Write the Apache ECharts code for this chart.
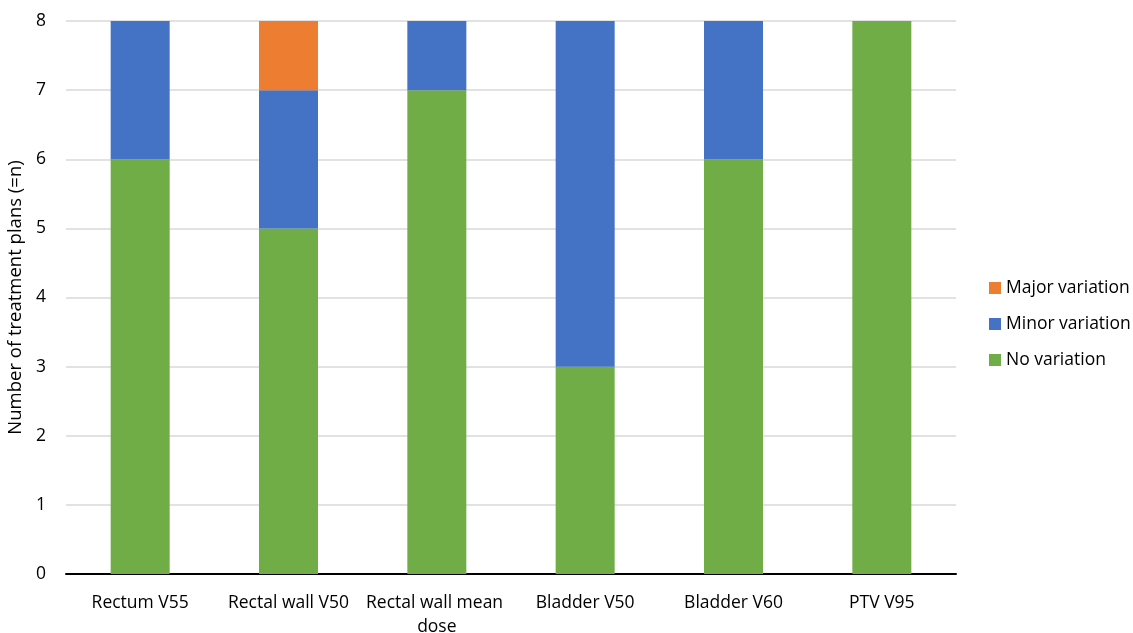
<!DOCTYPE html>
<html>
<head>
<meta charset="utf-8">
<script src="https://cdn.jsdelivr.net/npm/echarts@6/dist/echarts.min.js"></script>
<style>
  html, body { margin: 0; padding: 0; background: #fff; }
  #chart { width: 1133px; height: 633px; }
</style>
</head>
<body>
<div id="chart"></div>
<script>
// Plan metrics on the x axis
const categories = ['Rectum V55', 'Rectal wall V50', 'Rectal wall mean dose', 'Bladder V50', 'Bladder V60', 'PTV V95'];
// Number of treatment plans per variation class
const noVariation = [6, 5, 7, 3, 6, 8];
const minorVariation = [2, 2, 1, 5, 2, 0];
const majorVariation = [0, 1, 0, 0, 0, 0];
const yTicks = [0, 1, 2, 3, 4, 5, 6, 7, 8];

const FONT = '"Open Sans", "Liberation Sans", sans-serif';
const FS = 17.5;
const chart = echarts.init(document.getElementById('chart'));

chart.setOption({
  animation: false,
  grid: { left: 66, right: 177, top: 21, bottom: 59, containLabel: false, outerBoundsMode: 'none' },
  legend: {
    orient: 'vertical',
    left: 984,
    top: 271,
    itemWidth: 12,
    itemHeight: 12,
    itemGap: 12,
    icon: 'rect',
    textStyle: { fontFamily: FONT, fontSize: FS, color: '#000', padding: [0, 0, 0, 0], lineHeight: 24 },
    data: ['Major variation', 'Minor variation', 'No variation']
  },
  xAxis: {
    type: 'category',
    data: categories,
    axisLine: { lineStyle: { color: '#000', width: 2 } },
    axisTick: { show: false },
    axisLabel: {
      fontFamily: FONT, fontSize: FS, color: '#000', margin: 17,
      width: 146, overflow: 'break', lineHeight: 24, interval: 0
    }
  },
  yAxis: {
    type: 'value',
    min: yTicks[0],
    max: yTicks[yTicks.length - 1],
    interval: 1,
    name: 'Number of treatment plans (=n)',
    nameLocation: 'middle',
    nameGap: 40,
    nameTextStyle: { fontFamily: FONT, fontSize: 18.5, color: '#000' },
    axisLine: { show: false },
    axisTick: { show: false },
    axisLabel: { fontFamily: FONT, fontSize: FS, color: '#000', margin: 20 },
    splitLine: { lineStyle: { color: '#d9d9d9', width: 1.5 } }
  },
  series: [
    { name: 'No variation', type: 'bar', stack: 'n', barWidth: 59, data: noVariation, itemStyle: { color: '#70ad47' } },
    { name: 'Minor variation', type: 'bar', stack: 'n', barWidth: 59, data: minorVariation, itemStyle: { color: '#4472c4' } },
    { name: 'Major variation', type: 'bar', stack: 'n', barWidth: 59, data: majorVariation, itemStyle: { color: '#ed7d31' } }
  ]
});
</script>
</body>
</html>
